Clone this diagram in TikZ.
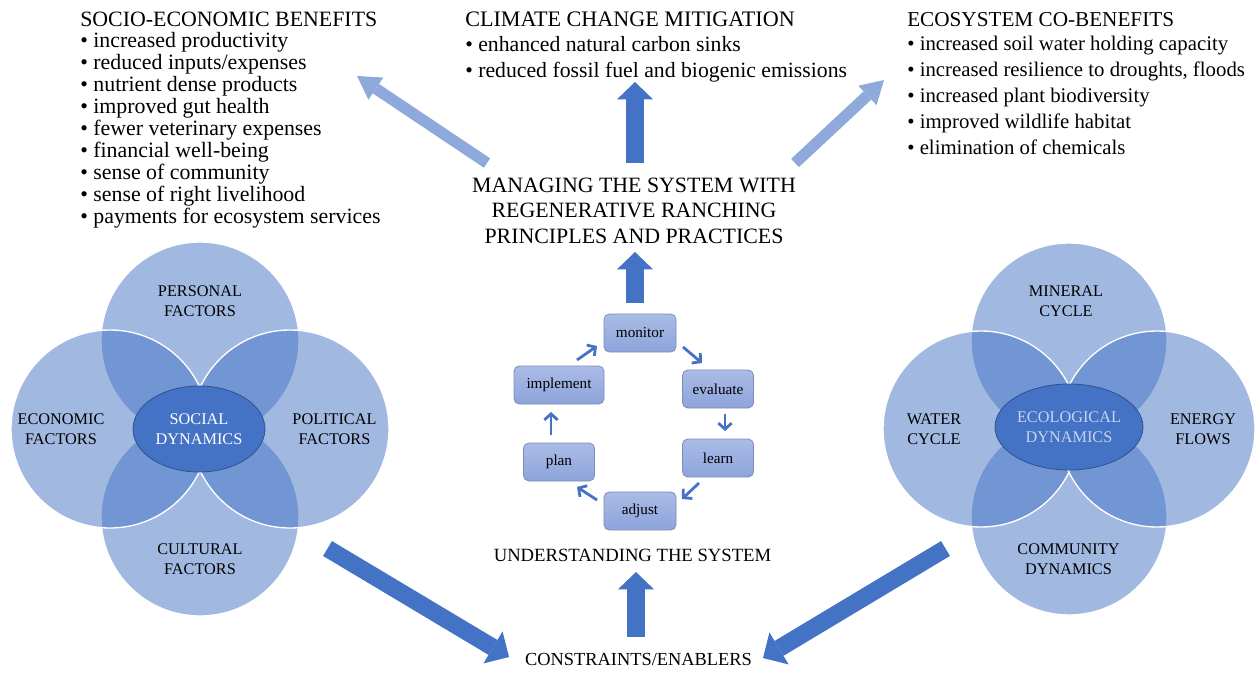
\documentclass[tikz,border=0pt]{standalone}
\usepackage{fontspec}
\setmainfont{Liberation Serif}
\usetikzlibrary{shapes.geometric,arrows.meta}
\definecolor{vblue}{HTML}{4472C4}
\definecolor{vdark}{HTML}{2F528F}
\definecolor{lblue}{HTML}{8EAADB}
\definecolor{boxtop}{HTML}{AABCE6}
\definecolor{boxbot}{HTML}{8DA4DB}
\definecolor{boxline}{HTML}{7D8CB6}
\definecolor{ecotext}{HTML}{C8D4EE}
\tikzset{
  venn/.style={circle, inner sep=0pt, minimum size=#1, fill=vblue, fill opacity=0.5, draw=white, line width=1pt},
  hub/.style={ellipse, inner sep=0pt, fill=vblue, draw=vdark, line width=0.6pt, align=center, font=\fontsize{12.2}{15}\selectfont},
  vlabel/.style={align=center, inner sep=0pt, font=\fontsize{12.2}{15}\selectfont, text=black},
  stepbox/.style={rectangle, rounded corners=4pt, draw=boxline, line width=0.6pt, top color=boxtop, bottom color=boxbot, inner sep=0pt, minimum height=28.5pt, font=\fontsize{11.4}{13}\selectfont},
  cyc/.style={draw=vblue, line width=2.1pt, -{Straight Barb[length=4.5pt,width=10pt]}},
  bigarrow/.style={draw=vblue, line width=13pt, -{Triangle[length=14pt,width=28pt,line width=0pt]}},
  uparrow/.style={draw=vblue, line width=13.5pt, -{Triangle[length=13pt,width=27pt,line width=0pt]}},
  lightarrow/.style={draw=lblue, line width=8.5pt, -{Triangle[length=17pt,width=20pt,line width=0pt]}},
  txt/.style={inner sep=0pt, anchor=base west},
  ctxt/.style={inner sep=0pt, anchor=base},
}
\begin{document}
\begin{tikzpicture}[x=0.75pt,y=-0.75pt]
\useasboundingbox (0,0) rectangle (1255,675);

% ---------- top text blocks ----------
\node[txt, font=\fontsize{16.4}{16.4}\selectfont] (sbt) at (80,26) {SOCIO-ECONOMIC BENEFITS};
\foreach \t [count=\i] in {increased productivity, reduced inputs/expenses, nutrient dense products, improved gut health, fewer veterinary expenses, financial well-being, sense of community, sense of right livelihood, payments for ecosystem services}
  \node[txt, font=\fontsize{16.4}{16.4}\selectfont] (sb\i) at (80,{47+22*(\i-1)}) {• \t};

\node[txt, font=\fontsize{16.6}{16.6}\selectfont] (cmt) at (465,26) {CLIMATE CHANGE MITIGATION};
\node[txt, font=\fontsize{16.3}{16.3}\selectfont] (cm1) at (465,51) {• enhanced natural carbon sinks};
\node[txt, font=\fontsize{16.3}{16.3}\selectfont] (cm2) at (465,77) {• reduced fossil fuel and biogenic emissions};

\node[txt, font=\fontsize{15.9}{15.9}\selectfont] (ebt) at (907,26) {ECOSYSTEM CO-BENEFITS};
\foreach \t [count=\i] in {increased soil water holding capacity, {increased resilience to droughts, floods}, increased plant biodiversity, improved wildlife habitat, elimination of chemicals}
  \node[txt, font=\fontsize{15.6}{15.6}\selectfont] (eb\i) at (907,{50+26*(\i-1)}) {• \t};

% ---------- middle texts ----------
\node[align=center, inner sep=0pt, font=\fontsize{16.4}{19.1}\selectfont] (manage) at (634,210.5)
  {MANAGING THE SYSTEM WITH\\REGENERATIVE RANCHING\\PRINCIPLES AND PRACTICES};
\node[ctxt, font=\fontsize{14}{14}\selectfont] (understand) at (632.5,561.5) {UNDERSTANDING THE SYSTEM};
\node[ctxt, font=\fontsize{13.8}{13.8}\selectfont] (constr) at (638.5,665) {CONSTRAINTS/ENABLERS};

% ---------- left Venn ----------
\node[venn=148.5pt] (stop) at (200,341) {};
\node[venn=148.5pt] (sbot) at (200,517) {};
\node[venn=148.5pt] (sleft) at (110,429) {};
\node[venn=148.5pt] (sright) at (290,429) {};
\node[hub, minimum width=99pt, minimum height=64.5pt, text=white] (social) at (199,429) {SOCIAL\\DYNAMICS};
\node[vlabel] (personal) at (200,301) {PERSONAL\\FACTORS};
\node[vlabel] (economic) at (61,429.5) {ECONOMIC\\FACTORS};
\node[vlabel] (political) at (334.5,429.5) {POLITICAL\\FACTORS};
\node[vlabel] (cultural) at (200,559.5) {CULTURAL\\FACTORS};

% ---------- right Venn ----------
\node[venn=147pt] (etop) at (1069,341) {};
\node[venn=147pt] (ebot) at (1069,517) {};
\node[venn=147pt] (eleft) at (981,429) {};
\node[venn=147pt] (eright) at (1157,429) {};
\node[hub, minimum width=111pt, minimum height=64.5pt, text=ecotext] (ecol) at (1069,427) {ECOLOGICAL\\DYNAMICS};
\node[vlabel] (mineral) at (1066,301) {MINERAL\\CYCLE};
\node[vlabel] (water) at (934,429.5) {WATER\\CYCLE};
\node[vlabel] (energy) at (1203,429.5) {ENERGY\\FLOWS};
\node[vlabel] (community) at (1068.5,559) {COMMUNITY\\DYNAMICS};

% ---------- cycle ----------
\node[stepbox, minimum width=54pt] (monitor) at (640,333) {monitor};
\node[stepbox, minimum width=53.25pt] (evaluate) at (718,389) {evaluate};
\node[stepbox, minimum width=53.25pt] (learn) at (718,458) {learn};
\node[stepbox, minimum width=54pt] (adjust) at (640,511) {adjust};
\node[stepbox, minimum width=53.25pt] (plan) at (559,462) {plan};
\node[stepbox, minimum width=67.5pt] (implement) at (559,385) {implement};

\coordinate (c1a) at (577,360); \coordinate (c1b) at (597,346);
\coordinate (c2a) at (683,347); \coordinate (c2b) at (702,363);
\coordinate (c3a) at (725,414); \coordinate (c3b) at (725,431);
\coordinate (c4a) at (699,483); \coordinate (c4b) at (682,499);
\coordinate (c5a) at (597,500); \coordinate (c5b) at (577,487);
\coordinate (c6a) at (551,435); \coordinate (c6b) at (551,412);
\draw[cyc] (c1a) -- (c1b);
\draw[cyc] (c2a) -- (c2b);
\draw[cyc] (c3a) -- (c3b);
\draw[cyc] (c4a) -- (c4b);
\draw[cyc] (c5a) -- (c5b);
\draw[cyc] (c6a) -- (c6b);

% ---------- block arrows ----------
\coordinate (u1a) at (635,163); \coordinate (u1b) at (635,82);
\coordinate (u2a) at (635,303); \coordinate (u2b) at (635,252);
\coordinate (u3a) at (636,637); \coordinate (u3b) at (636,572);
\draw[uparrow] (u1a) -- (u1b);
\draw[uparrow] (u2a) -- (u2b);
\draw[uparrow] (u3a) -- (u3b);

\coordinate (dla) at (327.5,548.5); \coordinate (dlb) at (509,657);
\coordinate (dra) at (945.5,548.5); \coordinate (drb) at (763,658);
\draw[bigarrow] (dla) -- (dlb);
\draw[bigarrow] (dra) -- (drb);

\coordinate (lla) at (487,163); \coordinate (llb) at (357,76);
\coordinate (lra) at (795,163); \coordinate (lrb) at (884,80);
\draw[lightarrow] (lla) -- (llb);
\draw[lightarrow] (lra) -- (lrb);
\end{tikzpicture}
\end{document}
